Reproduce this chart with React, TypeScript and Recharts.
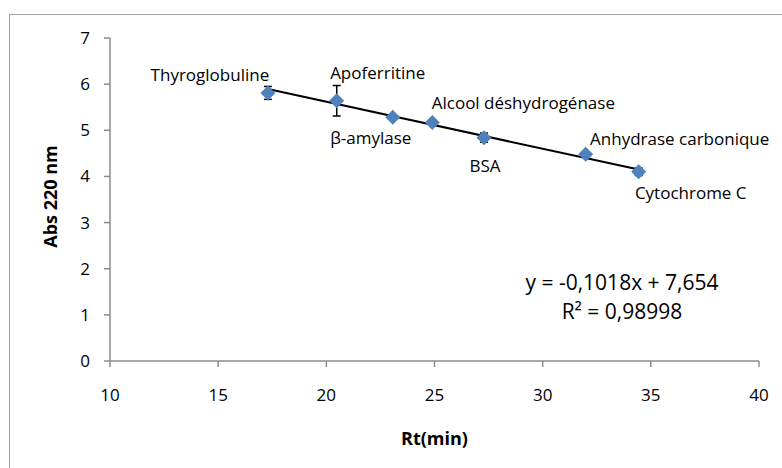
import React from "react";
import {
  ErrorBar,
  LabelList,
  ReferenceLine,
  Scatter,
  ScatterChart,
  XAxis,
  YAxis,
} from "recharts";

// proteins on the column
const proteins = [
  "Thyroglobuline",
  "Apoferritine",
  "β-amylase",
  "Alcool déshydrogénase",
  "BSA",
  "Anhydrase carbonique",
  "Cytochrome C",
];
const rtMin = [17.3, 20.48, 23.07, 24.9, 27.29, 31.99, 34.44];
const abs220 = [5.81, 5.64, 5.28, 5.17, 4.84, 4.48, 4.1];
const absErr = [0.14, 0.33, 0, 0, 0.1, 0, 0.08];

// linear trendline, drawn over the data range
const trendX = [17.3, 34.44];
const trendY = [5.893, 4.148];

const xTicks = [10, 15, 20, 25, 30, 35, 40];
const yTicks = [0, 1, 2, 3, 4, 5, 6, 7];

const equation = "y = -0,1018x + 7,654";
const rSquared = "R² = 0,98998";

const points = proteins.map((name, i) => ({
  name,
  x: rtMin[i],
  y: abs220[i],
  err: absErr[i],
}));

// where each point's label sits relative to its marker (px)
const labelOffsets = [
  [-58, -18],
  [41, -28],
  [-22, 20],
  [91, -20],
  [1, 28],
  [94, -16],
  [52, 21],
];

const FONT = "'Open Sans', Calibri, sans-serif";
const AXIS = "#8c8c8c";

const Diamond = (props: any) => {
  const { cx, cy } = props;
  const r = 7.5;
  return (
    <polygon
      points={`${cx},${cy - r} ${cx + r},${cy} ${cx},${cy + r} ${cx - r},${cy}`}
      fill="#4F81BD"
    />
  );
};

const PointLabel = (props: any) => {
  const { x, y, width, height, index, value } = props;
  const cx = x + (width || 0) / 2;
  const cy = y + (height || 0) / 2;
  const [dx, dy] = labelOffsets[index] || [0, 0];
  return (
    <text
      x={cx + dx}
      y={cy + dy}
      textAnchor="middle"
      dominantBaseline="central"
      fontFamily={FONT}
      fontSize={17}
      fill="#000"
    >
      {value}
    </text>
  );
};

const YTitle = (props: any) => {
  const { viewBox } = props;
  const cx = 50;
  const cy = viewBox.y + viewBox.height / 2 - 3;
  return (
    <text
      x={cx}
      y={cy}
      transform={`rotate(-90 ${cx} ${cy})`}
      textAnchor="middle"
      dominantBaseline="central"
      fontFamily={FONT}
      fontWeight="bold"
      fontSize={18}
      fill="#000"
    >
      Abs 220 nm
    </text>
  );
};

const XTitle = (props: any) => {
  const { viewBox } = props;
  const cx = viewBox.x + viewBox.width / 2;
  return (
    <text
      x={cx}
      y={438}
      textAnchor="middle"
      dominantBaseline="central"
      fontFamily={FONT}
      fontWeight="bold"
      fontSize={18}
      fill="#000"
    >
      Rt(min)
    </text>
  );
};

const tickStyle = { fontFamily: FONT, fontSize: 17, fill: "#000" };

export default function App() {
  return (
    <div
      style={{
        position: "absolute",
        left: 0,
        top: 0,
        width: 782,
        height: 468,
        overflow: "hidden",
        background: "#fff",
      }}
    >
      <div
        style={{
          position: "absolute",
          left: 9,
          top: 14,
          width: 800,
          height: 500,
          border: "1.5px solid #a6a6a6",
        }}
      />
      <ScatterChart
        width={782}
        height={468}
        margin={{ top: 38, right: 23, bottom: 57, left: 40 }}
        style={{ position: "absolute", left: 0, top: 0 }}
      >
        <XAxis
          type="number"
          dataKey="x"
          domain={[10, 40]}
          ticks={xTicks}
          height={50}
          stroke={AXIS}
          strokeWidth={1.5}
          tickSize={6}
          tickMargin={22}
          tick={tickStyle}
          tickLine={{ stroke: AXIS }}
          label={<XTitle />}
        />
        <YAxis
          type="number"
          dataKey="y"
          domain={[0, 7]}
          ticks={yTicks}
          width={70}
          stroke={AXIS}
          strokeWidth={1.5}
          tickSize={6}
          tickMargin={14}
          tick={tickStyle}
          tickLine={{ stroke: AXIS }}
          label={<YTitle />}
        />
        <ReferenceLine
          segment={[
            { x: trendX[0], y: trendY[0] },
            { x: trendX[1], y: trendY[1] },
          ]}
          stroke="#000"
          strokeWidth={2}
          ifOverflow="visible"
        />
        <Scatter
          data={points}
          shape={<Diamond />}
          isAnimationActive={false}
        >
          <ErrorBar
            dataKey="err"
            direction="y"
            width={4}
            stroke="#000"
            strokeWidth={1.5}
            isAnimationActive={false}
          />
          <LabelList dataKey="name" content={<PointLabel />} />
        </Scatter>
      </ScatterChart>
      <div
        style={{
          position: "absolute",
          left: 502,
          top: 268,
          width: 240,
          textAlign: "center",
          fontFamily: FONT,
          fontSize: 21,
          lineHeight: "29px",
          color: "#000",
        }}
      >
        <div>{equation}</div>
        <div>{rSquared}</div>
      </div>
    </div>
  );
}
